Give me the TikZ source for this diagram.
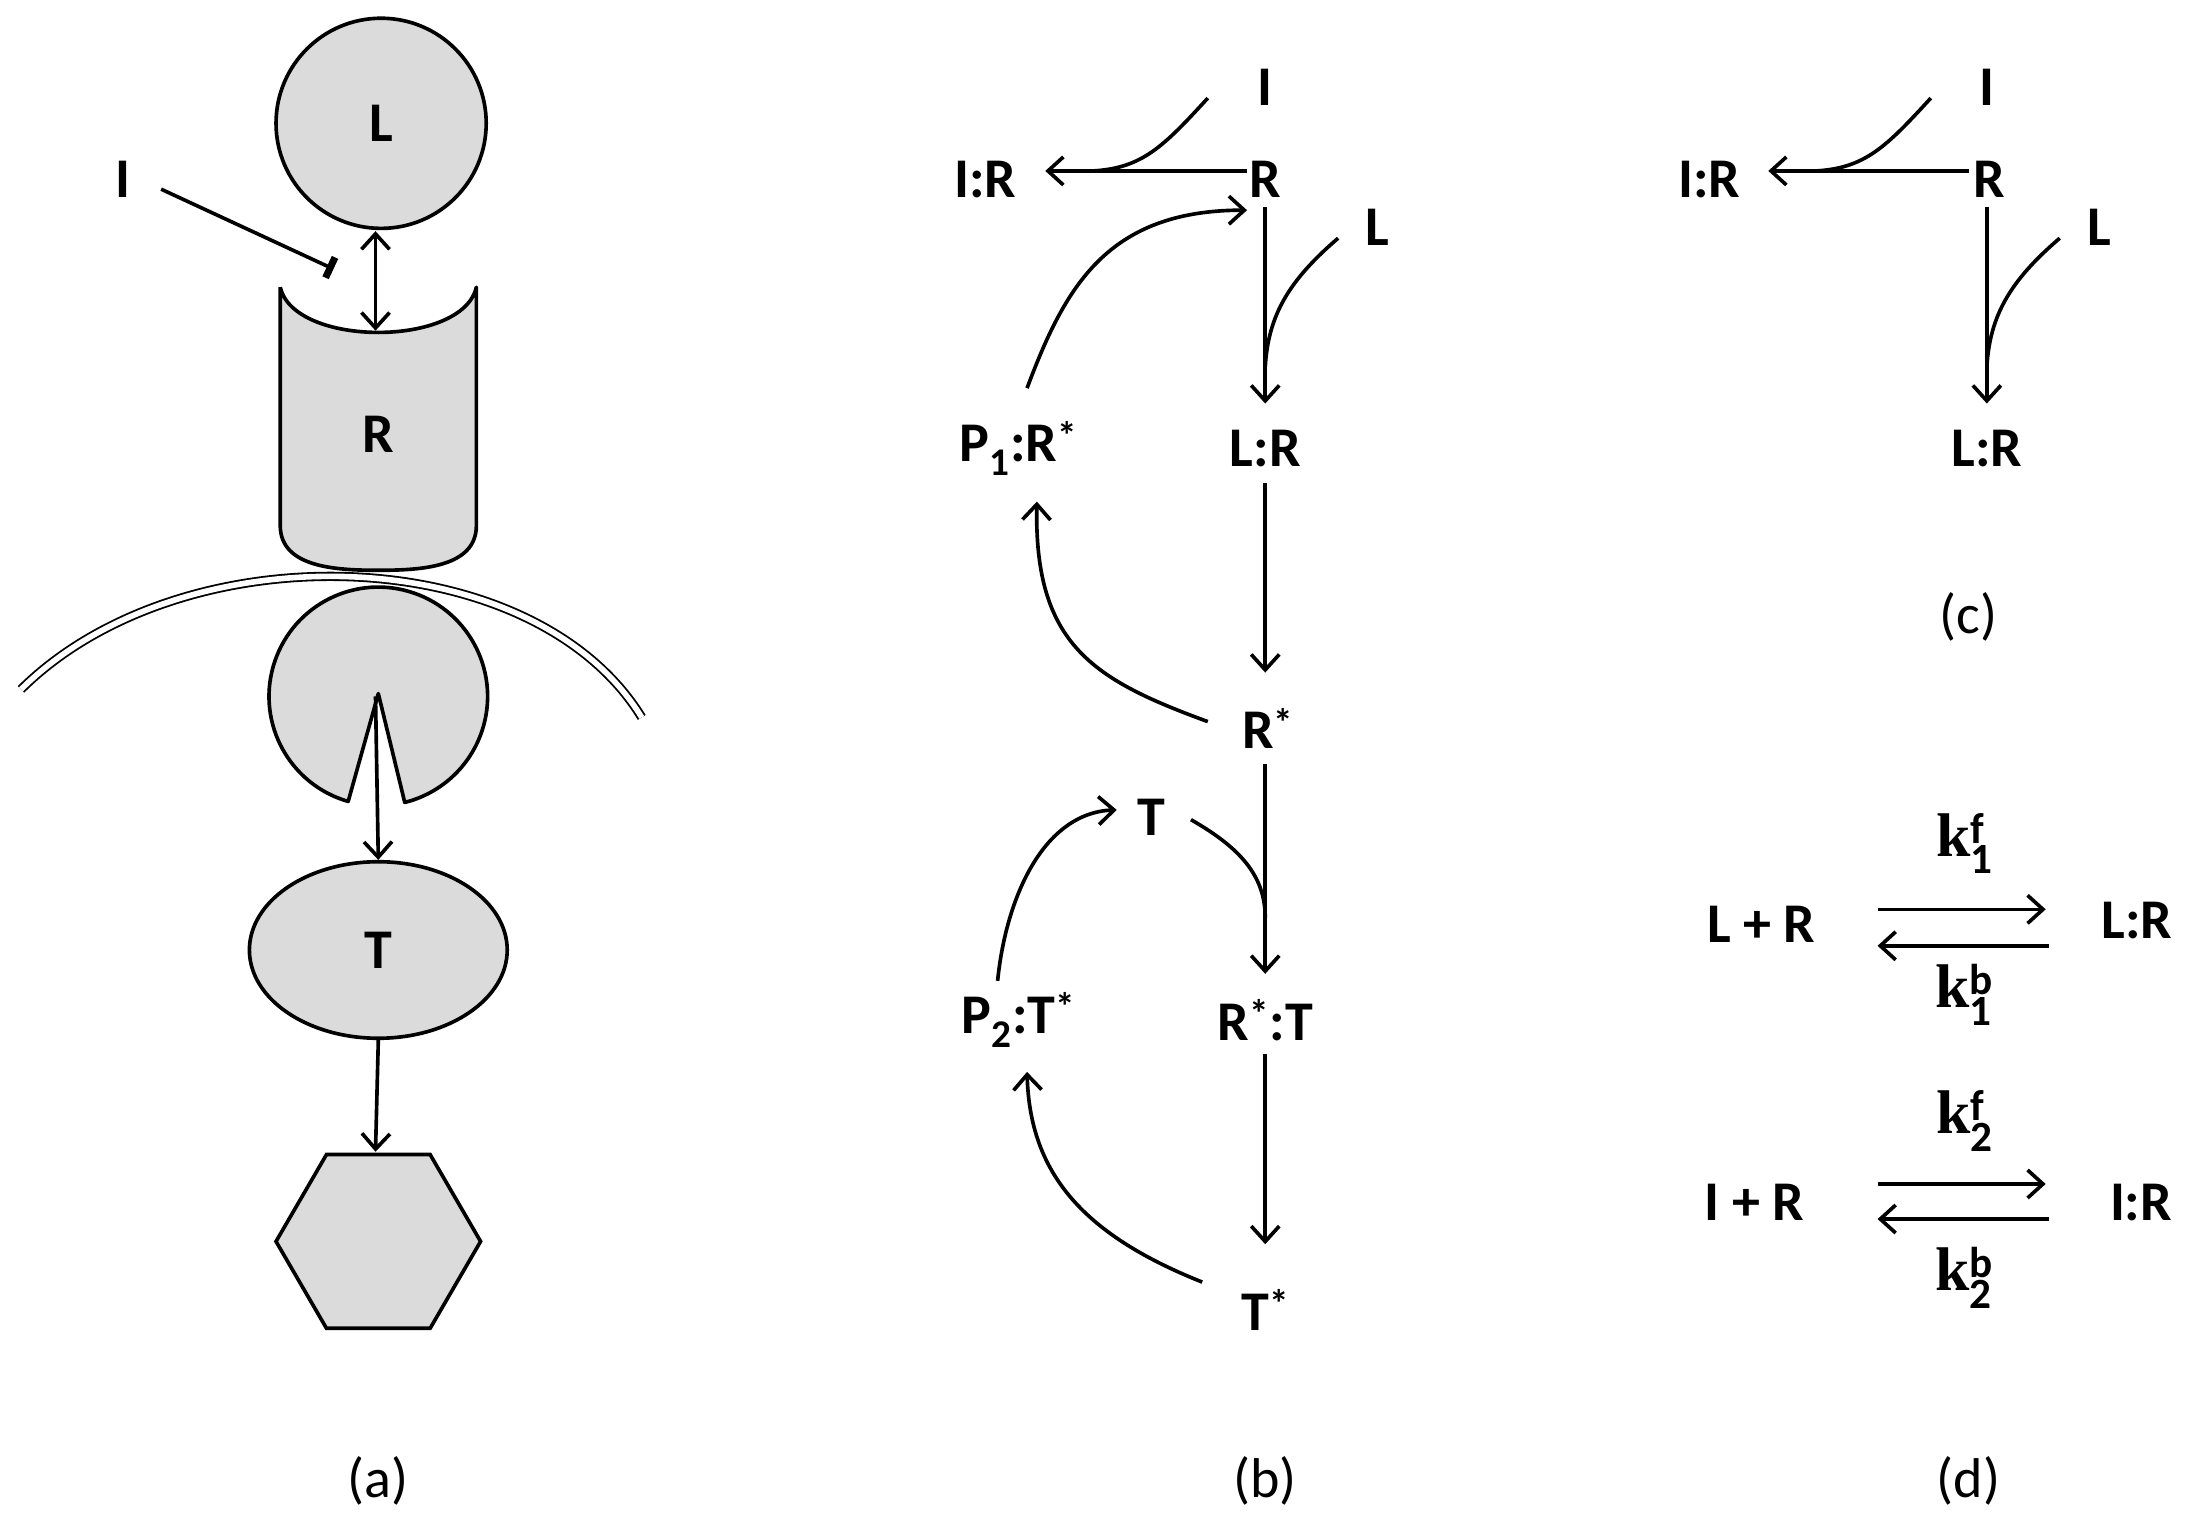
\documentclass[tikz,border=0pt]{standalone}
\usepackage{fontspec}
\setmainfont{Carlito}
\newfontfamily\kfont{Liberation Serif}
\usetikzlibrary{arrows.meta,shapes.geometric}
\begin{document}
\begin{tikzpicture}[x=1pt,y=-1pt,
  lab/.style={font=\fontsize{40}{44}\selectfont\bfseries,inner sep=0pt},
  captxt/.style={font=\fontsize{40}{44}\selectfont,inner sep=0pt},
  kl/.style={font=\fontsize{44}{48}\selectfont\kfont\bfseries,inner sep=0pt},
  ar/.style={line width=2.6pt,-{Straight Barb[length=11pt,width=20pt,line width=2.6pt]}},
  ln/.style={line width=2.6pt},
  shp/.style={draw,line width=2.6pt,fill=gray!28}]
\useasboundingbox (0,0) rectangle (1568,1093);
% ---------- (a)
\node[shp,circle,minimum size=150pt] (cL) at (272,88) {};
\node[lab] at (cL) {L};
\node[lab] (aI) at (88,128) {I};
\coordinate (aIs) at (115,135);
\coordinate (aIe) at (238,192);
\draw[line width=2.6pt,-{Bar[width=16pt,line width=5pt]}] (aIs) -- (aIe);
\draw[line width=2.6pt,{Straight Barb[length=11pt,width=20pt]}-{Straight Barb[length=11pt,width=20pt]}] (268,165) -- (268,236);
\draw[shp,line join=round] (200,205) -- (200,375) to[out=-90,in=180] (270,407) to[out=0,in=-90] (340,375) -- (340,205) .. controls (330,248) and (210,248) .. (200,205);
\node[lab] at (270,310) {R};
\draw[line width=1.3pt,double distance=4pt] (15,492) .. controls (130,378) and (380,385) .. (458,512);
\draw[shp,line join=round] (270,497) ++(106:78) arc[start angle=106,end angle=436,radius=78] -- (270,495) -- cycle;
\node[shp,ellipse,minimum width=184pt,minimum height=126pt] (cT) at (270,678) {};
\node[lab] at (cT) {T};
\draw[ar] (268,497) -- (cT.north);
\draw[shp] (197,886) -- (233,824) -- (307,824) -- (343,886) -- (307,948) -- (233,948) -- cycle;
\draw[ar] (cT.south) -- (268,822);
\node[captxt] at (270,1057) {(a)};
% ---------- (b)
\node[lab] (bI) at (903,62) {I};
\node[lab] (bR) at (903,128) {R};
\node[lab] (bIR) at (703,128) {I:R};
\node[lab] (bL) at (983,162) {L};
\node[lab] (bLR) at (903,320) {L:R};
\node[lab] (bP1) at (727,320) {P\textsubscript{1}:R\textsuperscript{*}};
\node[lab] (bRs) at (905,520) {R\textsuperscript{*}};
\node[lab] (bT) at (822,583) {T};
\node[lab] (bRT) at (903,728) {R\textsuperscript{*}:T};
\node[lab] (bP2) at (727,728) {P\textsubscript{2}:T\textsuperscript{*}};
\node[lab] (bTs) at (903,935) {T\textsuperscript{*}};
\node[captxt] at (903,1057) {(b)};
\draw[ar] (890,122) -- (746,122);
\draw[ln] (862,70) .. controls (830,105) and (815,120) .. (780,122);
\draw[ar] (903,148) -- (903,288);
\draw[ln] (955,170) .. controls (920,200) and (905,225) .. (903,262);
\draw[ar] (903,345) -- (903,480);
\draw[ar] (862,515) .. controls (780,485) and (738,460) .. (740,358);
\draw[ar] (733,277) .. controls (760,205) and (790,150) .. (890,150);
\draw[ar] (903,545) -- (903,695);
\draw[ln] (850,585) .. controls (885,605) and (903,625) .. (903,655);
\draw[ar] (712,700) .. controls (718,640) and (745,580) .. (797,578);
\draw[ar] (858,915) .. controls (770,880) and (735,835) .. (733,765);
\draw[ar] (903,752) -- (903,888);
% ---------- (c)
\node[lab] (cI) at (1418,62) {I};
\node[lab] (cR) at (1420,128) {R};
\node[lab] (cIR) at (1220,128) {I:R};
\node[lab] (cLl) at (1498,162) {L};
\node[lab] (cLR) at (1418,320) {L:R};
\node[captxt] at (1405,440) {(c)};
\draw[ar] (1405,122) -- (1262,122);
\draw[ln] (1378,70) .. controls (1346,105) and (1331,120) .. (1296,122);
\draw[ar] (1418,148) -- (1418,288);
\draw[ln] (1470,170) .. controls (1435,200) and (1420,225) .. (1418,262);
% ---------- (d)
\node[lab] (d1a) at (1257,660) {L + R};
\node[lab] (d1b) at (1525,657) {L:R};
\draw[ar] (1340,649) -- (1460,649);
\draw[ar] (1462,675) -- (1340,675);
\node[kl] at (1402,602) {k$^{\mathbf{f}}_{\mathbf{1}}$};
\node[kl] at (1402,710) {k$^{\mathbf{b}}_{\mathbf{1}}$};
\node[lab] (d2a) at (1252,858) {I + R};
\node[lab] (d2b) at (1528,858) {I:R};
\draw[ar] (1340,845) -- (1460,845);
\draw[ar] (1462,870) -- (1340,870);
\node[kl] at (1402,800) {k$^{\mathbf{f}}_{\mathbf{2}}$};
\node[kl] at (1402,912) {k$^{\mathbf{b}}_{\mathbf{2}}$};
\node[captxt] at (1405,1057) {(d)};
\end{tikzpicture}
\end{document}
